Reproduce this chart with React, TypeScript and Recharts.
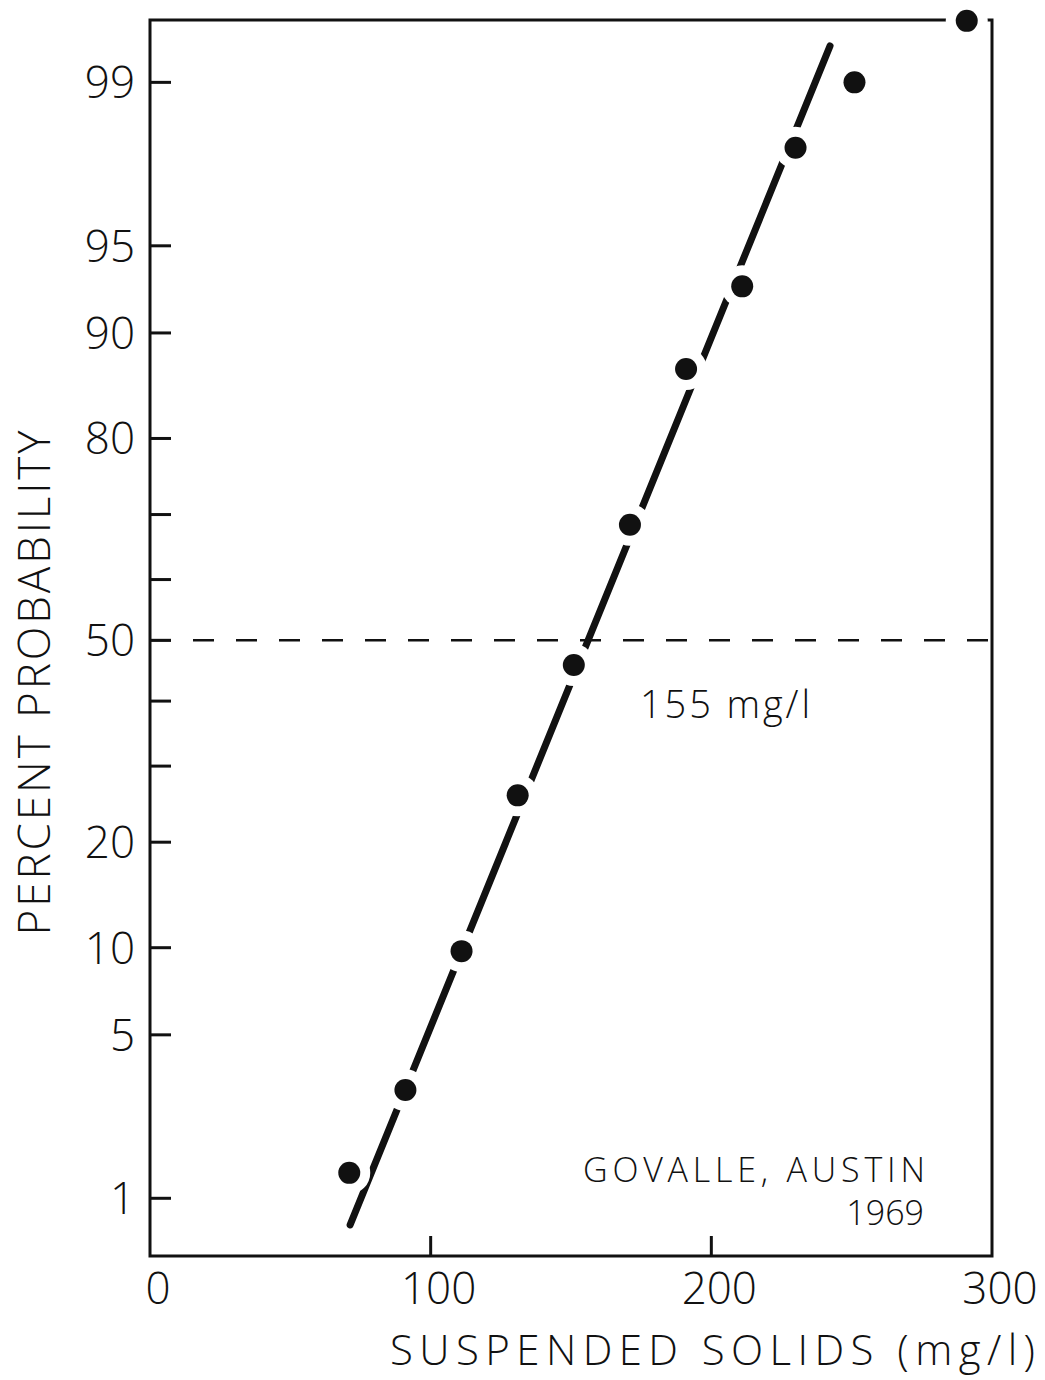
import { ComposedChart, Line, Scatter, XAxis, YAxis, ReferenceLine, ReferenceArea } from "recharts";

// suspended solids (mg/l) vs cumulative percent probability
const solids = [71, 91, 111, 131, 151, 171, 191, 211, 230, 251, 291];
const percentProb = [1.32, 3.04, 9.75, 25.9, 45.9, 68.5, 87.1, 93.0, 98.0, 99.0, 99.51];

// fitted line end points
const fitSolids = [71.3, 242.3];
const fitPercent = [0.74, 99.34];

const xTicks = [0, 100, 200, 300];
const yTickPercents = [1, 5, 10, 20, 30, 40, 50, 60, 70, 80, 90, 95, 99];
const yTickLabels = ["1", "5", "10", "20", "", "", "50", "", "", "80", "90", "95", "99"];
const yRangePercent = [0.513, 99.515];
const medianPercent = 50;

const FONT = "'Open Sans', 'DejaVu Sans', sans-serif";

// inverse normal CDF (Acklam), percent in -> z out
function probit(pct: number): number {
  const p = pct / 100;
  const a = [-39.69683028665376, 220.9460984245205, -275.9285104469687, 138.357751867269, -30.66479806614716, 2.506628277459239];
  const b = [-54.47609879822406, 161.5858368580409, -155.6989798598866, 66.80131188771972, -13.28068155288572];
  const c = [-0.007784894002430293, -0.3223964580411365, -2.400758277161838, -2.549732539343734, 4.374664141464968, 2.938163982698783];
  const d = [0.007784695709041462, 0.3224671290700398, 2.445134137142996, 3.754408661907416];
  const pl = 0.02425;
  if (p < pl) {
    const q = Math.sqrt(-2 * Math.log(p));
    return (((((c[0] * q + c[1]) * q + c[2]) * q + c[3]) * q + c[4]) * q + c[5]) / ((((d[0] * q + d[1]) * q + d[2]) * q + d[3]) * q + 1);
  }
  if (p > 1 - pl) {
    const q = Math.sqrt(-2 * Math.log(1 - p));
    return -(((((c[0] * q + c[1]) * q + c[2]) * q + c[3]) * q + c[4]) * q + c[5]) / ((((d[0] * q + d[1]) * q + d[2]) * q + d[3]) * q + 1);
  }
  const q = p - 0.5;
  const r = q * q;
  return ((((((a[0] * r + a[1]) * r + a[2]) * r + a[3]) * r + a[4]) * r + a[5]) * q) / (((((b[0] * r + b[1]) * r + b[2]) * r + b[3]) * r + b[4]) * r + 1);
}

const points = solids.map((x, i) => ({ x, z: probit(percentProb[i]) }));
const fit = fitSolids.map((x, i) => ({ x, z: probit(fitPercent[i]) }));
const yTicks = yTickPercents.map(probit);
const zMin = probit(yRangePercent[0]);
const zMax = probit(yRangePercent[1]);

const YTick = (props: any) => {
  const { x, y, payload } = props;
  const i = yTicks.findIndex((t) => Math.abs(t - payload.value) < 1e-9);
  const label = i >= 0 ? yTickLabels[i] : "";
  return (
    <g>
      <line x1={x} x2={x + 21} y1={y} y2={y} stroke="#111" strokeWidth={3} />
      {label && (
        <text x={x - 15} y={y} dy="0.36em" textAnchor="end" fontFamily={FONT} fontWeight={300} fontSize={44} fill="#111">
          {label}
        </text>
      )}
    </g>
  );
};

const XTick = (props: any) => {
  const { x, y, payload } = props;
  const inner = payload.value > 0 && payload.value < 300;
  return (
    <g>
      {inner && <line x1={x} x2={x} y1={y} y2={y - 20} stroke="#111" strokeWidth={3} />}
      <text x={x + 8} y={y + 48} textAnchor="middle" fontFamily={FONT} fontWeight={300} fontSize={44} fill="#111">
        {payload.value}
      </text>
    </g>
  );
};

const Dot = (props: any) => {
  const { cx, cy } = props;
  return (
    <g>
      <circle cx={cx} cy={cy} r={21} fill="#fff" />
      <circle cx={cx} cy={cy} r={11} fill="#111" />
    </g>
  );
};

export default function App() {
  return (
    <div style={{ position: "absolute", left: 0, top: 0, width: 1045, height: 1380, background: "#fff" }}>
      <ComposedChart width={1045} height={1380} margin={{ top: 20, right: 53, left: 0, bottom: 0 }}>
        <XAxis
          type="number"
          dataKey="x"
          domain={[0, 300]}
          ticks={xTicks}
          height={124}
          tickSize={0}
          tickMargin={0}
          axisLine={false}
          tickLine={false}
          tick={<XTick />}
        />
        <YAxis
          type="number"
          dataKey="z"
          domain={[zMin, zMax]}
          ticks={yTicks}
          width={150}
          tickSize={0}
          tickMargin={0}
          axisLine={false}
          tickLine={false}
          tick={<YTick />}
        />
        <ReferenceArea x1={0} x2={300} y1={zMin} y2={zMax} fill="none" stroke="#111" strokeWidth={3} ifOverflow="visible" />
        <ReferenceLine y={probit(medianPercent)} stroke="#111" strokeWidth={2.5} strokeDasharray="21 22" />
        <Line data={fit} dataKey="z" type="linear" stroke="#111" strokeWidth={7} strokeLinecap="round" dot={false} activeDot={false} isAnimationActive={false} />
        <Scatter data={points} dataKey="z" shape={<Dot />} isAnimationActive={false} />
        <text x={640} y={718} fontFamily={FONT} fontWeight={300} fontSize={38} fill="#111" textLength={170} lengthAdjust="spacing">
          155 mg/l
        </text>
        <text x={925} y={1182} textAnchor="end" fontFamily={FONT} fontWeight={300} fontSize={34} fill="#111" textLength={342} lengthAdjust="spacing">
          GOVALLE, AUSTIN
        </text>
        <text x={924} y={1225} textAnchor="end" fontFamily={FONT} fontWeight={300} fontSize={34} fill="#111">
          1969
        </text>
        <text x={390} y={1365} fontFamily={FONT} fontWeight={300} fontSize={42} fill="#111" textLength={645} lengthAdjust="spacing">
          SUSPENDED SOLIDS (mg/l)
        </text>
        <text
          x={0}
          y={0}
          transform="translate(50, 683) rotate(-90)"
          textAnchor="middle"
          fontFamily={FONT}
          fontWeight={300}
          fontSize={44}
          fill="#111"
          textLength={505}
          lengthAdjust="spacing"
        >
          PERCENT PROBABILITY
        </text>
      </ComposedChart>
    </div>
  );
}
